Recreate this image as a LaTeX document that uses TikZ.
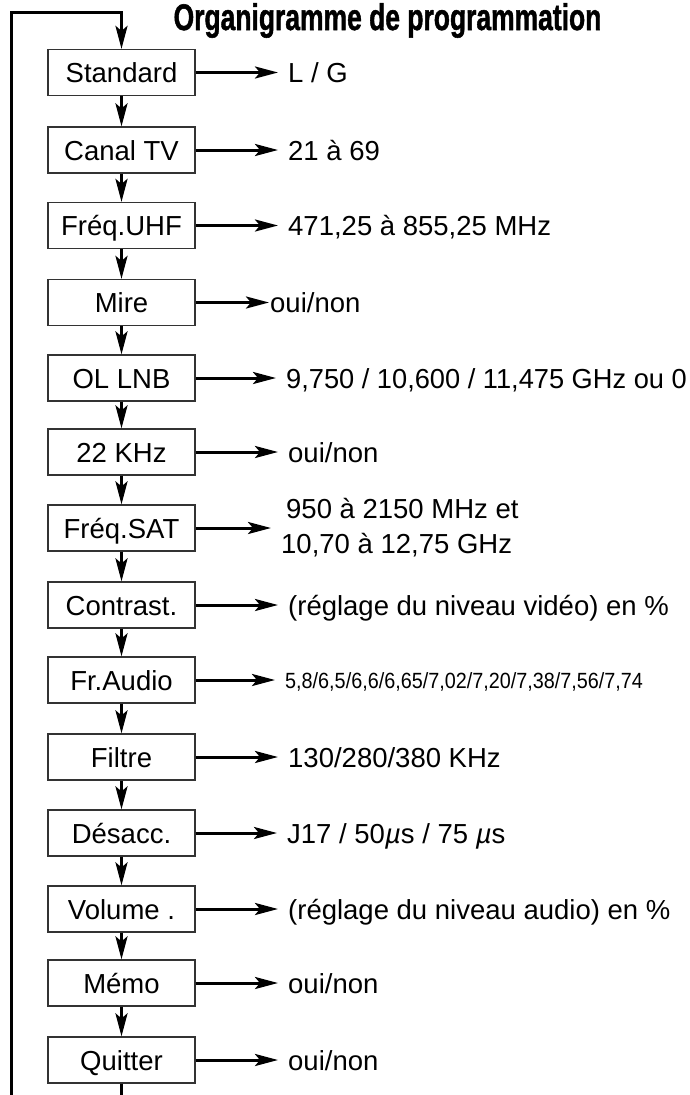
\documentclass[tikz,border=0pt]{standalone}
\usepackage{fontspec}
\setmainfont{Liberation Sans}
\newfontfamily\titlefont{Liberation Sans Bold}[FakeBold=1.5]
\usetikzlibrary{arrows.meta}
\begin{document}
\begin{tikzpicture}[x=1pt,y=-1pt,
  stepbox/.style={draw=black!80, line width=1.2pt, minimum width=147pt, minimum height=46pt,
    inner sep=0pt, font=\fontsize{27.5}{31}\selectfont, text height=20pt, text depth=0pt},
  val/.style={anchor=west, inner sep=0pt, font=\fontsize{27.5}{31}\selectfont, text height=20pt, text depth=0pt},
  valsmall/.style={anchor=west, inner sep=0pt, font=\fontsize{22}{26}\selectfont, text height=16pt, text depth=0pt},
  valtwo/.style={anchor=west, inner sep=0pt, font=\fontsize{27.5}{35}\selectfont},
  flow/.style={line width=3pt, -{Stealth[length=23pt,width=12pt,inset=5pt]}},
  side/.style={flow, shorten >=10pt},
  plain/.style={line width=3pt}
]
\useasboundingbox (0,0) rectangle (690,1095);

\node[anchor=base, inner sep=0pt, font=\fontsize{37}{42}\titlefont] (title) at (387.5,30)
  {\scalebox{0.715}[1]{Organigramme de programmation}};

\node[stepbox] (b1)  at (121.5,72.5) {Standard};
\node[stepbox] (b2)  at (121.5,150)  {Canal TV};
\node[stepbox] (b3)  at (121.5,225.5){Fréq.UHF};
\node[stepbox] (b4)  at (121.5,302.5){Mire};
\node[stepbox] (b5)  at (121.5,378)  {OL LNB};
\node[stepbox] (b6)  at (121.5,452)  {22 KHz};
\node[stepbox] (b7)  at (121.5,528)  {Fréq.SAT};
\node[stepbox] (b8)  at (121.5,605)  {Contrast.};
\node[stepbox] (b9)  at (121.5,680)  {Fr.Audio};
\node[stepbox] (b10) at (121.5,757)  {Filtre};
\node[stepbox] (b11) at (121.5,833)  {Désacc.};
\node[stepbox] (b12) at (121.5,909)  {Volume .};
\node[stepbox] (b13) at (121.5,983)  {Mémo};
\node[stepbox] (b14) at (121.5,1060) {Quitter};

\node[val] (v1)  at (288,72.5) {L / G};
\node[val] (v2)  at (288,150)  {21 à 69};
\node[val] (v3)  at (288,225.5){471,25 à 855,25 MHz};
\node[val] (v4)  at (270,302.5){oui/non};
\node[val] (v5)  at (286,378)  {\scalebox{0.99}[1]{9,750 / 10,600 / 11,475 GHz ou 0}};
\node[val] (v6)  at (288,452)  {oui/non};
\node[valtwo] (v7) at (281,529)
  {\begin{tabular}{@{}l@{}}\hspace*{5pt}950 à 2150 MHz et\\10,70 à 12,75 GHz\end{tabular}};
\node[val] (v8)  at (288,605)  {(réglage du niveau vidéo) en \%};
\node[valsmall] (v9) at (285,680)
  {\scalebox{0.9}[1]{5,8/6,5/6,6/6,65/7,02/7,20/7,38/7,56/7,74}};
\node[val] (v10) at (288,757)  {130/280/380 KHz};
\node[val] (v11) at (287,833)  {J17 / 50{\itshape µ}s / 75 {\itshape µ}s};
\node[val] (v12) at (288,909)  {(réglage du niveau audio) en \%};
\node[val] (v13) at (288,983)  {oui/non};
\node[val] (v14) at (288,1060) {oui/non};

\foreach \i in {1,2,3,5,6,7,8,9,10,11,12,13,14}
  \draw[side] (b\i.east) -- (b\i.east -| v\i.west);
\draw[flow, shorten >=1pt] (b4.east) -- (b4.east -| v4.west);

\foreach \i [evaluate=\i as \j using int(\i+1)] in {1,...,13}
  \draw[flow] (b\i) -- (b\j);

\coordinate (lb) at (11,1095);
\coordinate (lt) at (11,12);
\draw[flow, line join=miter] (lb) -- (lt) -| (b1.north);
\draw[plain] (b14.south) -- (b14.south |- lb);
\end{tikzpicture}
\end{document}
